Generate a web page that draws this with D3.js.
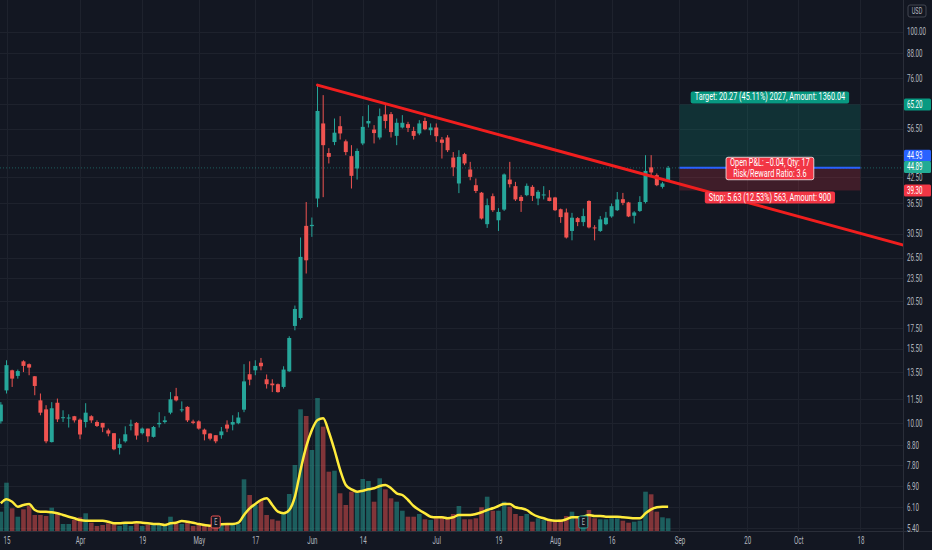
<!DOCTYPE html>
<html>
<head>
<meta charset="utf-8">
<script src="https://cdn.jsdelivr.net/npm/d3@7"></script>
<style>
html, body { margin: 0; padding: 0; background: #131722; }
svg { display: block; font-family: Roboto, "Liberation Sans", sans-serif; }
</style>
</head>
<body>
<svg id="chart" width="932" height="550"></svg>
<script>
// bar index of the first candle (0 = Mar 15)
const firstIdx = -1;

const opens = [10.11, 12.13, 13.65, 13.21, 14.39, 14.15, 13.18, 11.44, 10.85, 8.95,
    11.28, 10.31, 10.28, 10.42, 10.21, 10.07, 10.42, 10.07, 10.02, 9.59,
    9.43, 8.65, 8.99, 9.87, 10.02, 9.43, 9.69, 9.23, 9.94, 10.07,
    10.64, 11.72, 10.81, 11.01, 10.10, 10.11, 9.63, 9.41, 9.32, 9.32,
    9.92, 9.92, 10.00, 10.83, 13.34, 13.65, 14.27, 12.95, 12.63, 12.58,
    12.38, 13.57, 17.72, 18.57, 31.92, 31.87, 37.49, 58.30, 48.98, 52.26,
    57.37, 52.48, 48.10, 44.73, 51.83, 58.30, 56.24, 53.68, 61.47, 61.58,
    54.19, 56.93, 58.06, 55.78, 54.97, 59.15, 56.02, 56.93, 53.03, 53.68,
    47.71, 40.96, 48.67, 44.47, 40.55, 38.80, 32.24, 38.01, 32.99, 35.13,
    41.91, 40.32, 37.85, 38.24, 40.15, 37.49, 38.17, 37.72, 37.72, 35.20,
    34.54, 30.98, 33.41, 32.64, 36.95, 31.63, 30.98, 32.24, 33.74, 35.00,
    37.35, 36.63, 33.88, 34.85, 36.72, 45.03, 43.01, 40.15, 41.74];

const highs = [11.32, 14.48, 13.70, 13.71, 14.48, 14.21, 13.20, 11.91, 11.12, 11.32,
    11.56, 10.79, 10.54, 10.44, 10.28, 11.25, 10.48, 10.17, 10.02, 9.69,
    9.43, 9.14, 9.82, 10.21, 10.07, 9.75, 9.69, 9.84, 10.67, 10.42,
    12.01, 12.31, 11.37, 11.05, 10.21, 10.17, 9.69, 9.43, 9.32, 9.78,
    10.17, 10.48, 10.67, 14.15, 14.39, 14.48, 14.68, 13.32, 12.95, 12.63,
    13.98, 16.68, 19.98, 29.81, 36.72, 33.53, 73.03, 68.86, 50.41, 60.02,
    60.85, 53.03, 51.31, 50.32, 60.85, 64.93, 57.72, 63.66, 64.93, 62.35,
    60.02, 61.22, 58.85, 57.14, 59.45, 60.33, 58.30, 58.30, 53.84, 54.42,
    49.27, 49.81, 49.04, 46.51, 42.17, 38.96, 37.49, 38.62, 35.43, 43.44,
    46.51, 41.35, 38.24, 40.96, 40.55, 39.39, 40.32, 39.39, 37.85, 35.34,
    35.34, 34.46, 33.61, 35.34, 37.10, 32.05, 33.81, 34.65, 36.42, 38.96,
    38.75, 36.76, 34.80, 38.01, 48.38, 48.38, 43.44, 41.35, 45.38];

const lows = [9.98, 11.91, 12.38, 13.00, 13.51, 13.26, 11.79, 10.48, 8.89, 8.93,
    10.07, 10.07, 9.75, 10.04, 9.10, 9.75, 10.02, 9.78, 9.49, 9.26,
    8.53, 8.32, 8.92, 9.59, 9.08, 9.36, 8.95, 9.19, 9.75, 9.98,
    10.54, 11.37, 10.67, 10.07, 9.94, 9.63, 9.04, 9.04, 8.89, 9.13,
    9.49, 9.59, 9.94, 10.67, 12.50, 13.26, 13.65, 12.26, 12.01, 11.97,
    12.26, 13.53, 17.27, 18.39, 24.12, 29.92, 35.63, 37.79, 46.08, 51.31,
    53.03, 48.38, 39.76, 41.91, 51.31, 56.93, 51.83, 53.03, 56.60, 53.68,
    51.31, 56.60, 55.42, 53.03, 54.42, 56.02, 54.42, 52.32, 47.43, 49.27,
    42.76, 38.70, 45.62, 41.74, 38.71, 33.14, 31.54, 34.65, 30.98, 34.85,
    40.00, 36.95, 34.65, 38.01, 36.95, 36.05, 37.29, 36.88, 34.85, 32.49,
    29.63, 29.32, 31.87, 31.87, 31.45, 29.32, 30.80, 32.05, 33.49, 34.85,
    36.05, 33.61, 32.37, 34.65, 36.42, 43.01, 40.32, 39.76, 41.57];

const closes = [11.16, 14.07, 13.00, 13.59, 14.01, 13.87, 12.45, 10.64, 8.99, 10.92,
    10.23, 10.36, 10.34, 10.17, 9.36, 10.64, 10.17, 9.84, 9.75, 9.41,
    8.58, 8.84, 9.37, 9.92, 9.30, 9.69, 9.26, 9.78, 10.02, 10.17,
    11.51, 11.44, 10.85, 10.17, 10.02, 9.69, 9.37, 9.13, 8.99, 9.53,
    9.69, 10.07, 10.34, 12.79, 12.92, 14.01, 13.98, 12.58, 12.50, 12.01,
    13.71, 16.51, 19.58, 26.60, 26.07, 32.11, 62.74, 51.31, 47.90, 55.22,
    54.97, 49.27, 42.84, 49.58, 57.14, 59.15, 55.09, 60.85, 59.15, 55.42,
    58.53, 58.53, 56.80, 54.19, 58.30, 56.35, 56.93, 54.09, 52.02, 49.81,
    45.03, 47.90, 46.08, 42.58, 39.19, 33.33, 36.05, 35.00, 34.65, 43.19,
    40.79, 37.29, 36.95, 40.39, 38.08, 38.99, 38.40, 36.95, 35.00, 33.61,
    29.81, 33.49, 32.64, 33.81, 31.63, 31.45, 33.16, 33.49, 35.84, 37.29,
    36.54, 33.74, 34.54, 36.72, 44.10, 43.70, 40.55, 40.96, 44.89];

// volume in millions
const volumes = [2.03, 4.93, 2.37, 1.53, 2.27, 2.6, 1.7, 1.7, 1.6, 2.43,
    1.93, 0.8, 0.8, 1.2, 1.47, 1.87, 0.93, 0.6, 0.7, 0.87,
    0.8, 0.6, 0.87, 0.6, 0.87, 0.6, 0.7, 0.8, 0.8, 0.7,
    1.53, 1.03, 0.8, 1.13, 0.6, 0.8, 0.7, 0.6, 0.6, 0.8,
    0.7, 0.87, 0.8, 5.27, 3.7, 2.7, 3.2, 1.7, 1.27, 1.13,
    1.87, 3.8, 6.7, 12.27, 11.6, 8.2, 13.4, 10.53, 6.03, 6.13,
    3.87, 2.7, 4.03, 3.93, 5.3, 5.1, 3.03, 5.37, 4.27, 3.37,
    3.03, 2.13, 1.53, 1.53, 1.8, 1.27, 1.2, 1.37, 1.6, 1.37,
    1.8, 2.6, 1.27, 1.27, 1.37, 2.47, 3.53, 2.13, 2.13, 3.03,
    2.53, 1.8, 1.6, 1.8, 1.03, 1.37, 1.2, 1.13, 1.2, 1.27,
    1.6, 2.03, 1.37, 1.2, 2.2, 1.37, 1.27, 1.27, 1.37, 1.37,
    1.13, 0.93, 1.03, 1.13, 4.03, 3.77, 2.03, 1.47, 1.37];

// volume moving average as drawn (yellow)
const volumeMA = [2.87, 3.27, 3.03, 2.53, 2.7, 2.8, 2.2, 2.03, 2.03, 1.97,
    1.87, 1.7, 1.53, 1.37, 1.2, 1.13, 1.13, 1.13, 1.13, 1.03,
    0.87, 0.87, 0.93, 0.93, 0.97, 0.93, 0.87, 0.8, 0.8, 0.7,
    0.87, 0.93, 1.1, 1.03, 0.93, 0.8, 0.7, 0.63, 0.7, 0.77,
    0.8, 0.8, 0.93, 1.7, 2.37, 2.8, 3.2, 3.37, 2.7, 2.03,
    1.87, 2.2, 3.53, 6.2, 8.53, 10.2, 11.2, 11.37, 10.0, 8.2,
    6.2, 4.7, 4.27, 4.03, 4.13, 4.27, 4.37, 4.6, 4.7, 4.37,
    3.87, 3.7, 3.2, 2.6, 2.2, 1.87, 1.53, 1.47, 1.47, 1.37,
    1.47, 1.7, 1.7, 1.7, 1.8, 1.97, 2.2, 2.37, 2.6, 2.8,
    2.8, 2.47, 2.37, 2.2, 1.8, 1.53, 1.37, 1.2, 1.13, 1.13,
    1.27, 1.47, 1.47, 1.53, 1.7, 1.6, 1.6, 1.53, 1.53, 1.53,
    1.47, 1.43, 1.37, 1.37, 1.87, 2.27, 2.47, 2.53, 2.53];

const timeTickIdx = [0, 13, 24, 34, 44, 54, 63, 76, 87, 97, 107, 119, 131, 140, 151];
const timeTickText = ["15", "Apr", "19", "May", "17", "Jun", "14", "Jul", "19", "Aug", "16", "Sep", "20", "Oct", "18"];
const gridPrices = [100, 88, 76, 65.5, 56.5, 48.5, 42.5, 36.5, 30.5, 26.5, 23.5, 20.5,
    17.5, 15.5, 13.5, 11.5, 10, 8.8, 7.8, 6.9, 6.1, 5.4];
// tick labels that stay visible (the others sit under the price tags)
const labelPrices = [100, 88, 76, 56.5, 42.5, 36.5, 30.5, 26.5, 23.5, 20.5,
    17.5, 15.5, 13.5, 11.5, 10, 8.8, 7.8, 6.9, 6.1, 5.4];

const earningsIdx = [37, 102];

// trend line anchors [bar index, price]
const trendPts = [[55, 73.03], [159, 28.4]];

// long position tool
const posStart = 119, posEnd = 151;
const entryPrice = 44.93, targetPrice = 65.20, stopPrice = 39.30, lastPrice = 44.89;
const targetText = "Target: 20.27 (45.11%) 2027, Amount: 1360.04";
const stopText = "Stop: 5.63 (12.53%) 563, Amount: 900";
const pnlText = ["Open P&L: \u22120.04, Qty: 17", "Risk/Reward Ratio: 3.6"];

const W = 932, H = 550, axisX = 903, axisY = 531;
const SX = 0.62;  // axis text is horizontally condensed in the screenshot
const LSX = 0.73; // same for the position labels
const upCol = "#26a69a", downCol = "#ef5350";
const textCol = "#b2b5be";

const svg = d3.select("#chart");
svg.append("rect").attr("width", W).attr("height", H).attr("fill", "#131722");

const x = d3.scaleLinear().domain([0, 151]).range([6.5, 860.4]);
const y = d3.scaleLog().domain([5.4, 100]).range([528, 31.7]);
const vy = d3.scaleLinear().domain([0, 13.4]).range([axisY + 1, 398]);

const bars = opens.map((o, k) => ({
    i: k + firstIdx, o, h: highs[k], l: lows[k], c: closes[k],
    v: volumes[k], ma: volumeMA[k]
}));

svg.append("clipPath").attr("id", "clip")
    .append("rect").attr("width", axisX).attr("height", axisY);

const plot = svg.append("g").attr("clip-path", "url(#clip)");

// grid
plot.selectAll(".hgrid").data(gridPrices).join("line")
    .attr("x1", 0).attr("x2", axisX)
    .attr("y1", d => Math.round(y(d)) + 0.5).attr("y2", d => Math.round(y(d)) + 0.5)
    .attr("stroke", "#1e222d");
plot.selectAll(".vgrid").data(timeTickIdx).join("line")
    .attr("x1", d => Math.round(x(d)) + 0.5).attr("x2", d => Math.round(x(d)) + 0.5)
    .attr("y1", 0).attr("y2", axisY)
    .attr("stroke", "#1e222d");

// position tool boxes
const px0 = x(posStart), px1 = x(posEnd);
plot.append("rect").attr("x", px0).attr("width", px1 - px0)
    .attr("y", y(targetPrice)).attr("height", y(entryPrice) - y(targetPrice))
    .attr("fill", "rgba(8,153,129,0.2)");
plot.append("rect").attr("x", px0).attr("width", px1 - px0)
    .attr("y", y(entryPrice)).attr("height", y(stopPrice) - y(entryPrice))
    .attr("fill", "rgba(242,54,69,0.2)");

// last price dotted line
plot.append("line").attr("x1", 0).attr("x2", axisX)
    .attr("y1", y(lastPrice)).attr("y2", y(lastPrice))
    .attr("stroke", upCol).attr("stroke-opacity", 0.5).attr("stroke-dasharray", "1 2");

// volume
plot.selectAll(".vol").data(bars).join("rect")
    .attr("x", d => x(d.i) - 2.3).attr("width", 4.6)
    .attr("y", d => vy(d.v)).attr("height", d => vy(0) - vy(d.v))
    .attr("fill", d => d.c >= d.o ? "rgba(38,166,154,0.5)" : "rgba(239,83,80,0.5)");

plot.append("path").datum(bars)
    .attr("d", d3.line().x(d => x(d.i)).y(d => vy(d.ma)).curve(d3.curveMonotoneX))
    .attr("fill", "none").attr("stroke", "#ffeb3b").attr("stroke-width", 2.5);

// candles
const cg = plot.selectAll(".candle").data(bars).join("g")
    .attr("fill", d => d.c >= d.o ? upCol : downCol)
    .attr("stroke", d => d.c >= d.o ? upCol : downCol);
cg.append("line")
    .attr("x1", d => x(d.i)).attr("x2", d => x(d.i))
    .attr("y1", d => y(d.h)).attr("y2", d => y(d.l));
cg.append("rect")
    .attr("stroke", "none")
    .attr("x", d => x(d.i) - 2).attr("width", 4)
    .attr("y", d => y(Math.max(d.o, d.c)))
    .attr("height", d => Math.max(1, Math.abs(y(d.o) - y(d.c))));

// earnings markers
const eg = plot.selectAll(".earn").data(earningsIdx.map(i => bars[i - firstIdx])).join("g")
    .attr("transform", d => `translate(${x(d.i)},522)`);
eg.append("rect").attr("x", -4.5).attr("y", -6).attr("width", 9).attr("height", 12).attr("rx", 1.5)
    .attr("fill", "#131722").attr("stroke", d => d.c >= d.o ? upCol : downCol);
eg.append("text").attr("transform", `scale(${SX},1)`).attr("text-anchor", "middle").attr("dy", "0.35em")
    .attr("font-size", 9).attr("fill", textCol).text("E");

// trend line
plot.append("line")
    .attr("x1", x(trendPts[0][0])).attr("y1", y(trendPts[0][1]))
    .attr("x2", x(trendPts[1][0])).attr("y2", y(trendPts[1][1]))
    .attr("stroke", "#f01e1e").attr("stroke-width", 3).attr("stroke-linecap", "round");

// entry line
plot.append("line").attr("x1", px0).attr("x2", px1)
    .attr("y1", y(entryPrice)).attr("y2", y(entryPrice))
    .attr("stroke", "#2962ff").attr("stroke-width", 2);

// position labels
function boxLabel(lines, cx, top, fill, border) {
    const g = svg.append("g").attr("font-size", 10).attr("fill", "#fff");
    const texts = lines.map((s, k) => g.append("text")
        .attr("transform", `translate(${cx},${top + 9 + k * 10.5}) scale(${LSX},1)`)
        .attr("text-anchor", "middle").text(s));
    const w = d3.max(texts, t => t.node().getComputedTextLength()) * LSX + 8;
    g.insert("rect", "text").attr("x", cx - w / 2).attr("y", top)
        .attr("width", w).attr("height", 12 + (lines.length - 1) * 10.5).attr("rx", 2)
        .attr("fill", fill).attr("stroke", border || "none");
}
const pcx = (px0 + px1) / 2;
boxLabel([targetText], pcx, y(targetPrice) - 13, "#089981");
boxLabel([stopText], pcx, y(stopPrice) + 1, "#f23645");
boxLabel(pnlText, pcx, y(entryPrice) - 10.5, "#f23645", "rgba(255,255,255,0.75)");

// axes
svg.append("line").attr("x1", axisX + 0.5).attr("x2", axisX + 0.5).attr("y1", 0).attr("y2", H)
    .attr("stroke", "#2a2e39");
svg.append("line").attr("x1", 0).attr("x2", W).attr("y1", axisY + 0.5).attr("y2", axisY + 0.5)
    .attr("stroke", "#2a2e39");

const yAxis = svg.append("g").attr("transform", `translate(${axisX},0)`)
    .call(d3.axisRight(y).tickValues(labelPrices).tickSize(0).tickPadding(4).tickFormat(d3.format(".2f")));
const xAxis = svg.append("g").attr("transform", `translate(0,${axisY})`)
    .call(d3.axisBottom(x).tickValues(timeTickIdx).tickSize(0).tickPadding(6)
        .tickFormat((d, k) => timeTickText[k]));
[yAxis, xAxis].forEach(a => {
    a.select(".domain").remove();
    a.selectAll("text").attr("fill", textCol).attr("font-size", 10)
        .attr("font-family", "Roboto, 'Liberation Sans', sans-serif");
});
yAxis.selectAll("text").attr("transform", `scale(${SX},1)`).attr("x", 4 / SX);
xAxis.selectAll("text").attr("transform", `scale(${SX},1)`);

// price tags on the axis
const tags = [
    {v: targetPrice, ty: y(targetPrice), fill: "#089981"},
    {v: entryPrice, ty: y(entryPrice) - 12, fill: "#2962ff"},
    {v: lastPrice, ty: y(lastPrice) - 1, fill: "#22ab94"},
    {v: stopPrice, ty: y(stopPrice), fill: "#f23645"}
];
const tg = svg.selectAll(".tag").data(tags).join("g")
    .attr("transform", d => `translate(${axisX + 1},${d.ty})`);
tg.append("rect").attr("y", -6).attr("width", W - axisX - 2).attr("height", 12).attr("rx", 1.5)
    .attr("fill", d => d.fill);
tg.append("text").attr("transform", `scale(${SX},1)`).attr("x", 3 / SX).attr("dy", "0.35em")
    .attr("font-size", 10).attr("fill", "#fff").text(d => d.v.toFixed(2));

// currency tag
const cur = svg.append("g").attr("transform", "translate(917,11)");
cur.append("rect").attr("x", -9).attr("y", -6).attr("width", 18).attr("height", 12).attr("rx", 2)
    .attr("fill", "none").attr("stroke", "#434651");
cur.append("text").attr("transform", `scale(${SX},1)`).attr("text-anchor", "middle").attr("dy", "0.35em")
    .attr("font-size", 9).attr("fill", textCol).text("USD");
</script>
</body>
</html>
